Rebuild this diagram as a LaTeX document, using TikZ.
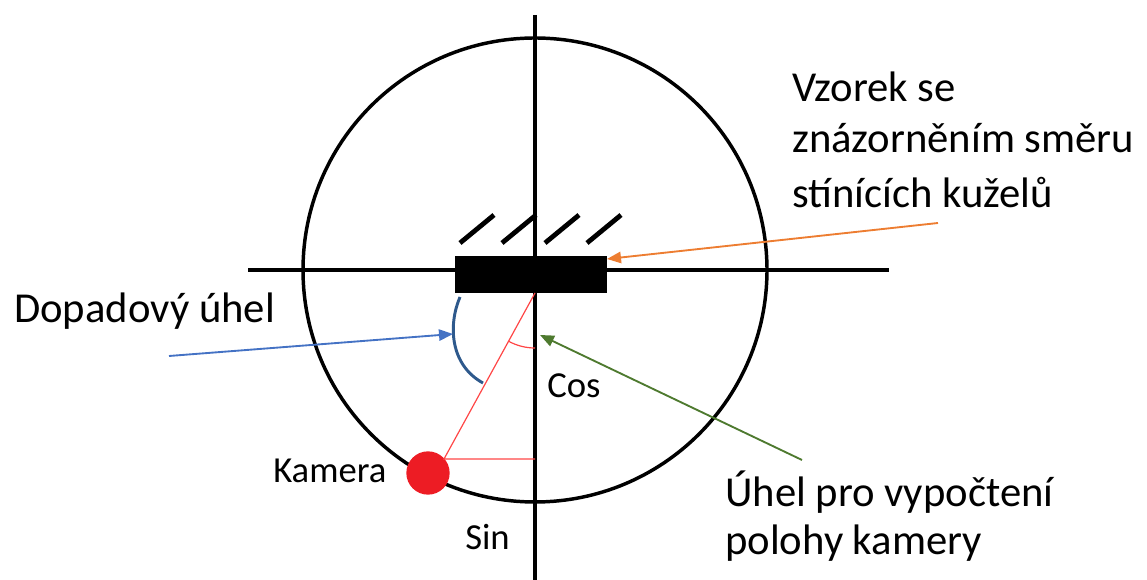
\documentclass[tikz,border=0pt]{standalone}
\usepackage{fontspec}
\setmainfont{Carlito}
\usetikzlibrary{arrows.meta}
\definecolor{oorange}{RGB}{237,125,49}
\definecolor{oblue}{RGB}{68,114,196}
\definecolor{darkblue}{RGB}{46,89,140}
\definecolor{ogreen}{RGB}{78,122,47}
\definecolor{cred}{RGB}{237,28,36}
\definecolor{lred}{RGB}{255,70,70}
\tikzset{
  axis/.style={line width=2.3pt, black},
  rim/.style={line width=2.6pt, black},
  hatch/.style={line width=3.6pt, black},
  redline/.style={line width=0.9pt, lred},
  pointer/.style={line width=1.4pt, -{Triangle[length=10.5pt,width=8.5pt]}},
  big/.style={font=\fontsize{32}{38.5}\selectfont, inner sep=0pt, align=left, text=black},
  small/.style={font=\fontsize{27.5}{32}\selectfont, inner sep=0pt, text=black},
}
\begin{document}
\begin{tikzpicture}[x=0.75pt,y=-0.75pt]
\useasboundingbox (0,0) rectangle (1147,580);
% circle and axes
\coordinate (O) at (535,270);
\draw[rim] (O) circle[radius=232];
\coordinate (vt) at (535,15);
\coordinate (vb) at (535,580);
\coordinate (hl) at (248,270);
\coordinate (hr) at (889,270);
\draw[axis] (vt) -- (vb);
\draw[axis] (hl) -- (hr);
% sample
\node[draw=black, fill=black, minimum width=113pt, minimum height=27pt, inner sep=0pt, anchor=north west] (sample) at (455,256) {};
\foreach \x in {460,502,545,587}{
  \draw[hatch] (\x,243) -- ++(34,-28);
}
% camera geometry
\coordinate (pivot) at (535,293);
\coordinate (foot) at (535,459);
\node[circle, fill=cred, minimum size=32.5pt, inner sep=0pt] (cam) at (428,473) {};
\coordinate (camtop) at (444,459);
\draw[redline] (pivot) -- (camtop) -- (foot);
\draw[redline] (pivot) ++(118.7:55) arc[start angle=118.7, end angle=90, radius=55];
% incidence arc
\draw[line width=2.2pt, darkblue] (460,297) .. controls (448,325) and (450,365) .. (483,383);
% labels
\node[big, anchor=base west] (vz) at (792,102) {Vzorek se};
\node[big, anchor=base west] (vz2) at (792,153) {znázorněním směru};
\node[big, anchor=base west] (vz3) at (792,208) {stínících kuželů};
\node[big, anchor=base west] (dop) at (14,323) {Dopadový úhel};
\node[big, anchor=base west] (uh1) at (725,507) {Úhel pro vypočtení};
\node[big, anchor=base west] (uh2) at (725,555) {polohy kamery};
\node[small, anchor=base west] (cos) at (547,398) {Cos};
\node[small, anchor=base west] (kam) at (273,483) {Kamera};
\node[small, anchor=base west] (sin) at (465,550) {Sin};
% pointers
\coordinate (os) at (938,223);
\coordinate (ot) at (607,259);
\draw[pointer, oorange] (os) -- (ot);
\coordinate (bs) at (169,356);
\coordinate (bt) at (453,334);
\draw[pointer, oblue] (bs) -- (bt);
\coordinate (gs) at (802,460);
\coordinate (gt) at (540,335);
\draw[pointer, ogreen] (gs) -- (gt);
\end{tikzpicture}
\end{document}
